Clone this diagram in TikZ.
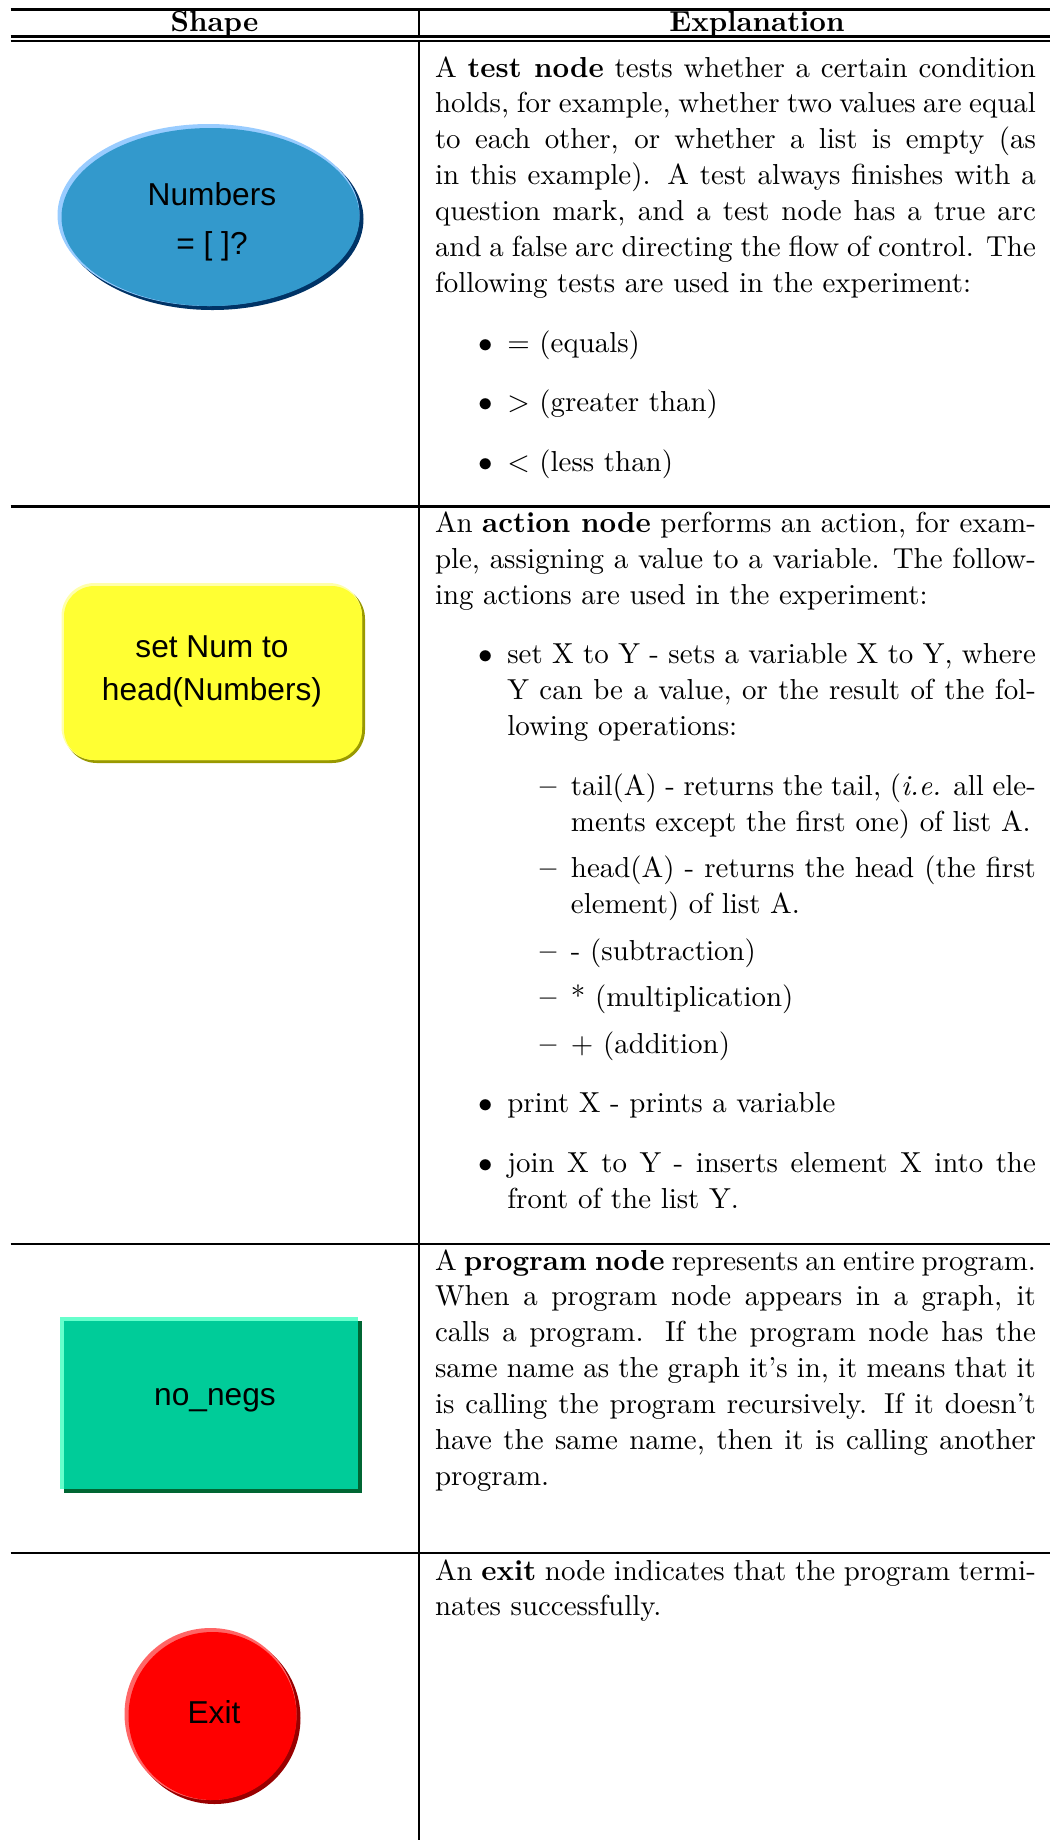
\documentclass[tikz,border=0pt]{standalone}
\usepackage{fontspec}
\newfontfamily\shapefont{Liberation Sans}
% list spacing of an 11pt document
\makeatletter
\def\@listi{\leftmargin\leftmargini \labelwidth\leftmargini \advance\labelwidth-\labelsep
  \parsep 4.5\p@ \topsep 9\p@ \itemsep 4.5\p@}
\let\@listI\@listi
\def\@listii{\leftmargin\leftmarginii \labelwidth\leftmarginii \advance\labelwidth-\labelsep
  \topsep 4.5\p@ \parsep 2\p@ \itemsep\parsep}
\makeatother
\setlength\leftmargini{27.4pt}
\setlength\leftmarginii{24.1pt}
\setlength\labelsep{5.5pt}
\renewcommand\labelitemi{$\bullet$}
% forced, justified line end
\newcommand\lnbrk{\penalty-10000\relax}
\definecolor{bluemain}{RGB}{51,153,204}
\definecolor{bluelight}{RGB}{153,204,255}
\definecolor{bluedark}{RGB}{0,51,102}
\definecolor{yellowmain}{RGB}{255,255,51}
\definecolor{yellowlight}{RGB}{255,255,170}
\definecolor{yellowdark}{RGB}{153,153,0}
\definecolor{greenmain}{RGB}{0,204,153}
\definecolor{greenlight}{RGB}{102,255,204}
\definecolor{greendark}{RGB}{0,102,51}
\definecolor{redmain}{RGB}{255,0,0}
\definecolor{redlight}{RGB}{255,102,102}
\definecolor{reddark}{RGB}{153,0,0}
\begin{document}
\tolerance=1000
\begin{tikzpicture}[x=0.3788pt, y=0.3788pt,
  rule/.style={line width=0.85pt, line cap=butt},
  head/.style={anchor=base, inner sep=0pt, font=\fontsize{10.95pt}{13.6pt}\selectfont\bfseries},
  expl/.style={anchor=base west, inner sep=0pt, outer sep=0pt, text width=8cm, align=justify,
    font=\fontsize{10.95pt}{13.6pt}\selectfont},
  shapetext/.style={inner sep=0pt, align=center, text=black,
    font=\shapefont\fontsize{12pt}{16.5pt}\selectfont}]
\useasboundingbox (0,0) rectangle (1050,-1840);

% table rules
\draw[rule] (10.5,-9.5) -- (1050,-9.5);
\draw[rule] (10.5,-36.5) -- (1050,-36.5);
\draw[rule] (10.5,-41) -- (1050,-41);
\draw[rule] (10.5,-506.5) -- (1050,-506.5);
\draw[rule] (10.5,-1244) -- (1050,-1244);
\draw[rule] (10.5,-1553) -- (1050,-1553);
\draw[rule] (419.3,-9.5) -- (419.3,-36.5);
\draw[rule] (419.3,-41) -- (419.3,-1840);

% header
\node[head] (hshape) at (214.5,-31) {Shape};
\node[head] (hexpl) at (757,-31) {Explanation};

% test node: bevelled blue ellipse
\fill[bluedark] (212.5,-219) ellipse [x radius=151, y radius=91];
\fill[bluelight] (208.5,-215) ellipse [x radius=151, y radius=91];
\fill[bluemain] (210.5,-217) ellipse [x radius=149, y radius=89];
\node[shapetext, font=\shapefont\fontsize{12pt}{18.5pt}\selectfont] (test) at (212,-222) {Numbers\\= [ ]?};

% action node: bevelled yellow rounded box
\fill[yellowdark, rounded corners=12.5pt] (64,-586) rectangle (365,-763);
\fill[yellowlight, rounded corners=12.5pt] (61.5,-583) rectangle (362,-760);
\fill[yellowmain, rounded corners=11.5pt] (64,-586) rectangle (362,-760);
\node[shapetext] (action) at (212,-671.5) {set Num to\\head(Numbers)};

% program node: bevelled green box
\fill[greenlight] (60,-1317) rectangle (358,-1489);
\fill[greendark] (64,-1321) rectangle (362,-1493);
\fill[greenmain] (64,-1321) rectangle (358,-1489);
\node[shapetext] (program) at (215,-1400) {no\_negs};

% exit node: bevelled red circle
\fill[reddark] (214.5,-1718) circle [radius=86];
\fill[redlight] (210.5,-1714) circle [radius=86];
\fill[redmain] (212.5,-1716) circle [radius=84];
\node[shapetext] (exit) at (214,-1712) {Exit};

% explanations, broken into the printed lines
\node[expl] (e1) at (435,-77) {A \textbf{test node} tests whether a certain condition\lnbrk
holds, for example, whether two values are equal\lnbrk
to each other, or whether a list is empty (as\lnbrk
in this example). A test always finishes with a\lnbrk
question mark, and a test node has a true arc\lnbrk
and a false arc directing the flow of control. The\lnbrk
following tests are used in the experiment:
\begin{itemize}
\item $=$ (equals)
\item $>$ (greater than)
\item $<$ (less than)
\end{itemize}};

\node[expl] (e2) at (435,-532.5) {An \textbf{action node} performs an action, for exam-\lnbrk
ple, assigning a value to a variable. The follow-\lnbrk
ing actions are used in the experiment:
\begin{itemize}
\item set X to Y - sets a variable X to Y, where\lnbrk
Y can be a value, or the result of the fol-\lnbrk
lowing operations:
\begin{itemize}
\item tail(A) - returns the tail, (\emph{i.e.} all ele-\lnbrk
ments except the first one) of list A.
\item head(A) - returns the head (the first\lnbrk
element) of list A.
\item - (subtraction)
\item * (multiplication)
\item $+$ (addition)
\end{itemize}
\item print X - prints a variable
\item join X to Y - inserts element X into the\lnbrk
front of the list Y.
\end{itemize}};

\node[expl] (e3) at (435,-1270) {A \textbf{program node} represents an entire program.\lnbrk
When a program node appears in a graph, it\lnbrk
calls a program. If the program node has the\lnbrk
same name as the graph it's in, it means that it\lnbrk
is calling the program recursively. If it doesn't\lnbrk
have the same name, then it is calling another\lnbrk
program.};

\node[expl] (e4) at (435,-1580) {An \textbf{exit} node indicates that the program termi-\lnbrk
nates successfully.};
\end{tikzpicture}
\end{document}
